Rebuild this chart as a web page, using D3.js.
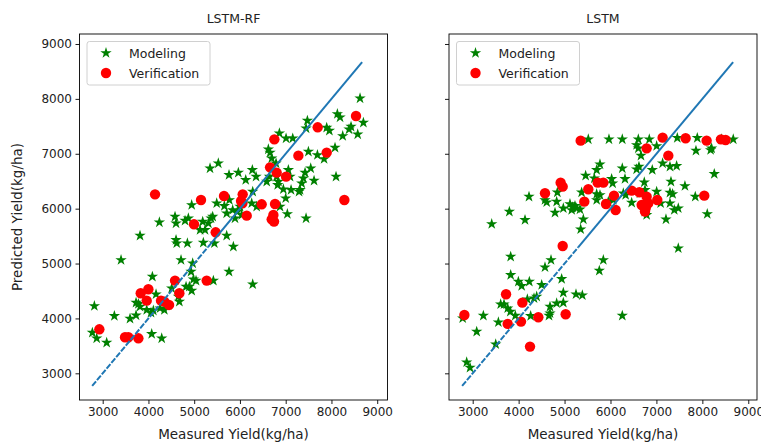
<!DOCTYPE html>
<html><head><meta charset="utf-8">
<script src="https://cdn.jsdelivr.net/npm/d3@7"></script>
<style>body{margin:0;background:#fff}svg{display:block}text{font-family:"DejaVu Sans",sans-serif;fill:#222}</style>
</head><body><svg id="c" width="761" height="443"></svg>
<script>
const titles = ["LSTM-RF", "LSTM"];
const xTicks = [3000,4000,5000,6000,7000,8000,9000];
const yTicks = [3000,4000,5000,6000,7000,8000,9000];
const lineEnds = [2770, 8670];
const legendLabels = ["Modeling", "Verification"];
const xLabel = "Measured Yield(kg/ha)";
const yLabel = "Predicted Yield(kg/ha)";

// LSTM-RF modeling (measured, predicted)
const rfModelX = [8625,8129,8188,8698,8428,8384,8574,8246,7474,7445,6862,7008,7154,7896,7955,6621,6658,6694,6789,7496,7693,7839,8078,8100,7620,7547,7423,7386,7350,7314,7292,7058,7095,6803,6840,6825,6949,7117,7000,6876,7036,7445,6643,6585,6271,6126,6352,5965,5761,5527,5346,6279,6257,6366,5768,5659,5710,5841,5943,6001,6038,5892,5492,5404,5368,5310,5186,5128,5237,4945,4872,4800,4581,4603,4239,3816,3401,5710,5856,5200,5441,4851,4603,4618,4712,4967,4931,4982,5040,4894,4945,4822,5419,5761,6279,4508,4654,4676,4166,4086,3729,3780,3816,3962,4056,4107,4253,4348,4435,3729,3597,3255,2818,2774,2869,3087,4071,4290];
const rfModelY = [8010,7725,7664,7567,7494,7445,7354,7324,7603,7464,7373,7281,7281,7476,7421,7081,7021,6917,6826,7039,6978,6905,7112,6583,6510,6735,6656,6553,6462,6341,6310,6705,6583,6583,6492,6432,6353,6341,6189,6037,5903,5824,6583,6492,6705,6523,6583,6656,6614,6826,6735,6310,6098,6037,6158,6049,5915,5976,5946,6037,5885,5824,6098,5855,5824,5733,5764,5612,5612,6067,5824,5782,5855,5733,5751,5509,5065,5509,5308,5381,5369,5369,5430,5369,5065,5004,4853,4713,4689,4580,4507,4580,4689,4853,4622,4549,4398,4306,4440,4762,4288,4264,4215,4155,4106,4143,4185,4155,4246,4057,3997,4045,4227,3742,3638,3559,3717,3638];
// LSTM-RF verification
const rfVerX = [4144,5149,5652,6060,6024,6053,6475,6148,4996,5470,6752,7699,8537,7277,7896,6658,6803,7008,6767,6731,6694,6745,8282,4581,5273,4676,3998,3831,3962,4275,4348,4450,2927,3488,3561,3780];
const rfVerY = [6261,6158,6231,6261,6140,6098,6079,5873,5715,5569,7263,7482,7688,6966,7021,6753,6656,6583,6085,5885,5806,5764,6158,4689,4689,4458,4531,4458,4324,4324,4306,4246,3802,3657,3657,3638];
// LSTM modeling
const lsModelX = [5517,5967,6257,6606,6845,7455,7890,8673,8419,6569,6606,6664,7005,7861,8202,8180,8260,5771,5699,5459,6257,6620,6569,6910,7135,7295,7440,6316,6025,6047,5648,6736,7621,7317,4226,3798,3414,4139,4843,4574,4611,4828,4792,4973,5118,5177,5227,5264,5155,5336,5409,5351,5372,5699,5699,5771,5953,6062,6279,6330,6461,6642,6751,6773,6787,6751,7005,7092,7295,7353,7295,7389,7476,7208,7846,8107,7476,3827,4705,4574,3827,3994,4233,4066,4502,4937,4973,5757,5844,5249,5387,4335,4393,4190,3609,3682,3762,3820,3928,4828,4973,4683,4683,4661,4262,3559,3232,2782,3087,3501,2869,2942,6257];
const lsModelY = [7263,7263,7263,7263,7263,7290,7290,7263,7263,7160,7099,6966,7142,7057,7099,7069,6632,6808,6705,6602,6735,6766,6717,6705,6826,6766,6778,6541,6541,6462,6553,6480,6413,6492,6219,5946,5721,5794,6297,6158,6116,6128,5928,6007,6085,6025,6049,6007,5976,5988,5806,5624,6297,6267,6158,6249,6128,6158,6280,6249,6110,6280,6341,6219,5885,5946,6310,6098,6292,6267,6098,5976,6007,5806,6219,5903,5278,5126,5065,4932,4792,4671,4671,4592,4610,4719,4470,4871,5065,4440,4422,4367,4398,4349,4258,4258,4185,4124,4051,4276,4288,4215,4094,4051,4045,3930,4051,4003,3760,3529,3201,3104,4051];
// LSTM verification
const lsVerX = [5351,7135,7636,8093,8405,8507,6787,7259,4915,4959,4574,5517,5430,5721,5844,6076,5902,6112,6461,6628,6787,6679,6765,6823,7019,6751,8042,4959,3726,4081,2819,3762,4052,4429,5024,4248];
const lsVerY = [7239,7294,7282,7239,7263,7251,7099,6966,6474,6401,6280,6353,6128,6474,6474,6237,6085,5976,6328,6298,6219,6067,6007,6098,6158,5946,6237,5320,4440,4288,4063,3900,3942,4021,4076,3487];

const panels = [
  {title: titles[0], mx: rfModelX, my: rfModelY, vx: rfVerX, vy: rfVerY, xr: [79.5, 387.5], xd: [2493, 9225], yLabels: true},
  {title: titles[1], mx: lsModelX, my: lsModelY, vx: lsVerX, vy: lsVerY, xr: [449, 757], xd: [2484, 9190], yLabels: false}
];
const yTop = 34, yBottom = 400;
const svg = d3.select("#c");
const y = d3.scaleLinear().domain([2514, 9182]).range([yBottom, yTop]);

panels.forEach(p => {
  const x = d3.scaleLinear().domain(p.xd).range(p.xr);
  const g = svg.append("g");
  const star = d3.symbol().type(d3.symbolStar).size(40);
  g.selectAll("path.m").data(p.mx.map((v,i)=>[v,p.my[i]])).join("path")
    .attr("d", star).attr("transform", d=>`translate(${x(d[0])},${y(d[1])})`)
    .attr("fill", "#008000");
  g.selectAll("circle.v").data(p.vx.map((v,i)=>[v,p.vy[i]])).join("circle")
    .attr("cx", d=>x(d[0])).attr("cy", d=>y(d[1])).attr("r", 5.2).attr("fill", "#ff0000");
  const mid = 5300;
  g.append("line").attr("x1", x(lineEnds[0])).attr("y1", y(lineEnds[0])).attr("x2", x(mid)).attr("y2", y(mid))
    .attr("stroke", "#1f77b4").attr("stroke-width", 2).attr("stroke-dasharray", "6,1.5");
  g.append("line").attr("x1", x(mid)).attr("y1", y(mid)).attr("x2", x(lineEnds[1])).attr("y2", y(lineEnds[1]))
    .attr("stroke", "#1f77b4").attr("stroke-width", 2);
  g.append("rect").attr("x", p.xr[0]).attr("y", yTop).attr("width", p.xr[1]-p.xr[0]).attr("height", yBottom-yTop)
    .attr("fill", "none").attr("stroke", "#000").attr("stroke-width", 0.9);
  const xa = g.append("g").attr("transform", `translate(0,${yBottom})`)
    .call(d3.axisBottom(x).tickValues(xTicks).tickSize(4).tickPadding(3.5).tickFormat(d3.format("d")));
  const ya = g.append("g").attr("transform", `translate(${p.xr[0]},0)`)
    .call(d3.axisLeft(y).tickValues(yTicks).tickSize(4).tickPadding(3.5).tickFormat(p.yLabels ? d3.format("d") : ""));
  [xa, ya].forEach(a => {
    a.select(".domain").remove();
    a.selectAll("line").attr("stroke", "#000").attr("stroke-width", 0.9);
    a.selectAll("text").attr("font-size", 12).style("font-family", '"DejaVu Sans",sans-serif').attr("fill", "#222");
  });
  const cx = (p.xr[0]+p.xr[1])/2;
  g.append("text").attr("x", cx).attr("y", 23).attr("text-anchor", "middle").attr("font-size", 12.5).text(p.title);
  g.append("text").attr("x", cx).attr("y", 439).attr("text-anchor", "middle").attr("font-size", 13.5).text(xLabel);
  const lx = p.xr[0] + 7.5, ly = 41.5;
  const lg = g.append("g");
  lg.append("rect").attr("x", lx).attr("y", ly).attr("width", 123).attr("height", 43.5).attr("rx", 2.5)
    .attr("fill", "#fff").attr("fill-opacity", 0.8).attr("stroke", "#d0d0d0").attr("stroke-width", 1);
  lg.append("path").attr("d", star).attr("transform", `translate(${lx+19},${ly+11.5})`).attr("fill", "#008000");
  lg.append("circle").attr("cx", lx+19).attr("cy", ly+31.5).attr("r", 5.2).attr("fill", "#ff0000");
  lg.append("text").attr("x", lx+42).attr("y", ly+16).attr("font-size", 12.5).text(legendLabels[0]);
  lg.append("text").attr("x", lx+42).attr("y", ly+36).attr("font-size", 12.5).text(legendLabels[1]);
});
svg.append("text").attr("transform", `translate(22,${(yTop+yBottom)/2}) rotate(-90)`).attr("text-anchor", "middle")
  .attr("font-size", 13.5).text(yLabel);
</script></body></html>
